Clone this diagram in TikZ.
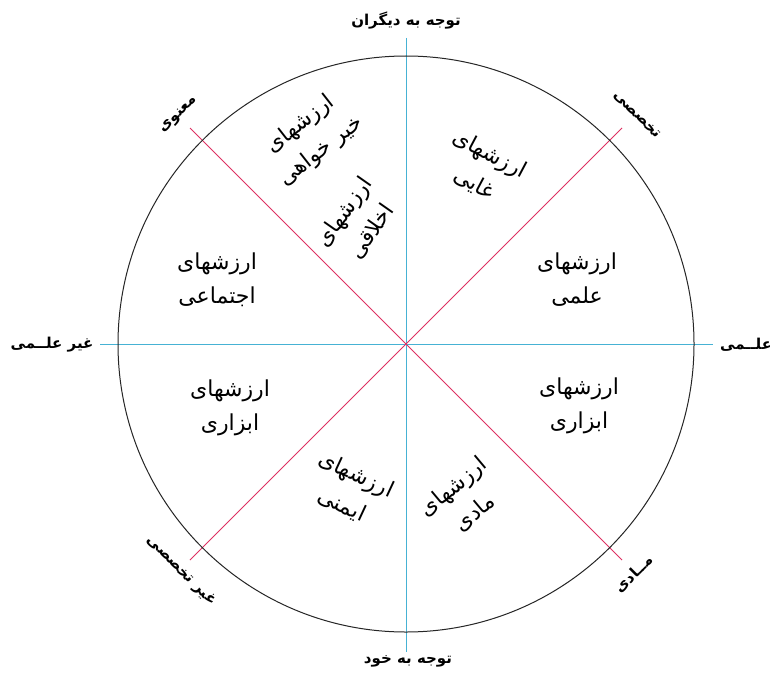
\documentclass[tikz,border=0pt]{standalone}
\usepackage{fontspec}
\TeXXeTstate=1
\newfontfamily\arabicfont[Script=Arabic]{DejaVu Sans}
\newcommand{\myrtl}[1]{\beginR #1\endR}
\definecolor{axisblue}{RGB}{70,178,212}
\definecolor{diagred}{RGB}{222,48,98}
\tikzset{
  inner/.style={font=\arabicfont\fontsize{22}{34}\selectfont, align=center, inner sep=0pt},
  outer/.style={font=\arabicfont\bfseries\fontsize{15}{17}\selectfont, inner sep=0pt},
  bluel/.style={draw=axisblue, line width=1pt},
  redl/.style={draw=diagred, line width=1pt},
  ring/.style={draw=black!85, line width=1pt}
}
\begin{document}
\begin{tikzpicture}[x=1pt,y=1pt]
\useasboundingbox (0,0) rectangle (770,-677);
\fill[white] (0,0) rectangle (770,-677);
\coordinate (O) at (406,-344);
\coordinate (T) at (406,-38);
\coordinate (B) at (406,-652);
\coordinate (L) at (100,-344);
\coordinate (R) at (713,-344);
\coordinate (NW) at (190,-128);
\coordinate (NE) at (622,-128);
\coordinate (SW) at (190,-560);
\coordinate (SE) at (622,-560);
\draw[bluel] (T) -- (B);
\draw[bluel] (L) -- (R);
\draw[redl] (NW) -- (SE);
\draw[redl] (NE) -- (SW);
\draw[ring] (O) circle[radius=288];
% outer labels
\node[outer] (top) at (406,-21) {\myrtl{توجه به دیگران}};
\node[outer] (bot) at (408,-661) {\myrtl{توجه به خود}};
\node[outer] (lft) at (52,-345) {\myrtl{غیر علــمی}};
\node[outer, anchor=west] (rgt) at (720,-345) {\myrtl{علــمی}};
\node[outer, rotate=45] (nwl) at (179,-115) {\myrtl{معنوی}};
\node[outer, rotate=-45] (nel) at (637,-115) {\myrtl{تخصصی}};
\node[outer, rotate=-45] (swl) at (181,-571) {\myrtl{غیر تخصصی}};
\node[outer, rotate=45] (sel) at (634,-574) {\myrtl{مــادی}};
% inner labels
\node[inner, rotate=38] (khayr) at (311,-138) {\myrtl{ارزشهای}\\\myrtl{خیر خواهی}};
\node[inner, rotate=55] (akhlaq) at (358,-222) {\myrtl{ارزشهای}\\\myrtl{اخلاقی}};
\node[inner, rotate=-28] (ghayi) at (482,-169) {\myrtl{ارزشهای}\\\myrtl{غایی}};
\node[inner] (ejtemai) at (217,-280) {\myrtl{ارزشهای}\\\myrtl{اجتماعی}};
\node[inner] (elmi) at (577,-280) {\myrtl{ارزشهای}\\\myrtl{علمی}};
\node[inner] (abzarL) at (230,-408) {\myrtl{ارزشهای}\\\myrtl{ابزاری}};
\node[inner] (abzarR) at (579,-406) {\myrtl{ارزشهای}\\\myrtl{ابزاری}};
\node[inner, rotate=-25] (imeni) at (349,-490) {\myrtl{ارزشهای}\\\myrtl{ایمنی}};
\node[inner, rotate=40] (madi) at (464,-500) {\myrtl{ارزشهای}\\\myrtl{مادی}};
\end{tikzpicture}
\end{document}
